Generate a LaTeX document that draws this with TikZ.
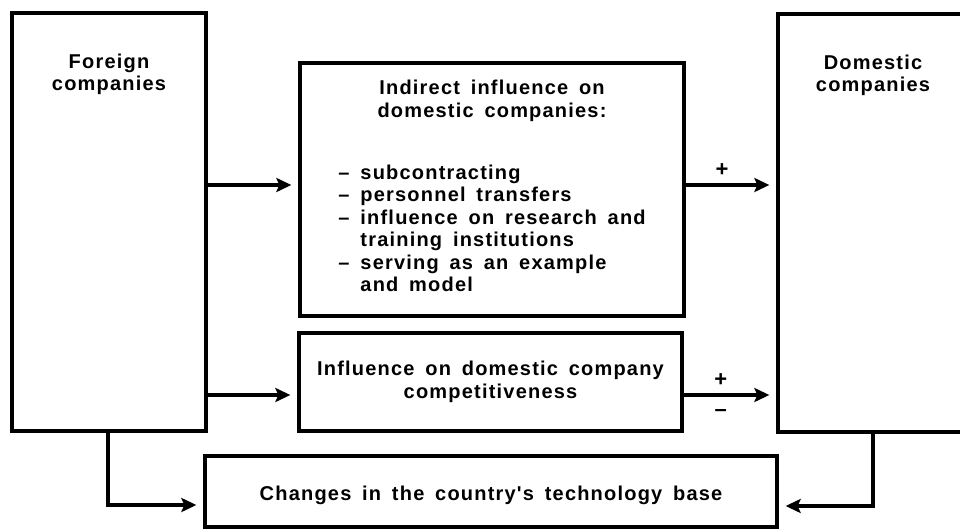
\documentclass[tikz,border=0pt]{standalone}
\usepackage{fontspec}
\usepackage{tikz}
\usetikzlibrary{arrows.meta, positioning, calc}
\newfontfamily\diagfont{Liberation Sans}[LetterSpace=6, WordSpace=1.6]

\begin{document}
\begin{tikzpicture}[
    x=1pt, y=-1pt,
    font=\diagfont\bfseries\fontsize{20}{22.5}\selectfont,
    box/.style={
        rectangle,
        draw=black,
        line width=3.3pt,
        align=center,
        inner sep=0pt
    },
    boxtitle/.style={anchor=north, align=center, inner sep=0pt},
    arrow/.style={-{Stealth[length=15pt,width=14pt,inset=3pt]}, line width=3.1pt, shorten >=7pt},
    sign/.style={font=\diagfont\bfseries\fontsize{22}{22}\selectfont, inner sep=1pt}
]
    \useasboundingbox (0,0) rectangle (960,529);

    % Boxes
    \node[box, minimum width=194pt, minimum height=418pt] (foreign) at (109,222) {};
    \node[boxtitle] (foreigntitle) at ([yshift=-42pt]foreign.north) {Foreign\\companies};

    \node[box, minimum width=190pt, minimum height=418pt] (domestic) at (873,223) {};
    \node[boxtitle] (domestictitle) at ([yshift=-42pt]domestic.north) {Domestic\\companies};

    \node[box, minimum width=384pt, minimum height=253pt] (indirect) at (492,189.5)
        {Indirect influence on\\domestic companies:\\[41pt]
         \begin{tabular}{@{}l@{\hspace{11pt}}l@{}}
         \textendash & subcontracting\\
         \textendash & personnel transfers\\
         \textendash & influence on research and\\
                     & training institutions\\
         \textendash & serving as an example\\
                     & and model
         \end{tabular}};

    \node[box, minimum width=383pt, minimum height=98pt] (compet) at (490.5,382)
        {Influence on domestic company\\competitiveness};

    \node[box, minimum width=572pt, minimum height=71pt] (changes) at (491,491.5)
        {\rule{0pt}{23pt}Changes in the country's technology base};

    % Arrows
    \draw[arrow] ([yshift=37pt]foreign.east) -- ([yshift=4.5pt]indirect.west);
    \draw[arrow] ([yshift=4.5pt]indirect.east) -- ([yshift=38pt]domestic.west)
        node[sign, pos=0.4, above=6pt] {+};
    \draw[arrow] ([yshift=-173pt]foreign.east) -- ([yshift=-13pt]compet.west);
    \draw[arrow] ([yshift=-13pt]compet.east) -- ([yshift=-172pt]domestic.west)
        node[sign, pos=0.4, above=6pt] {+}
        node[sign, pos=0.4, below=12pt] {\textendash};
    \draw[arrow] ([xshift=-1pt]foreign.south) |- ([yshift=-13.5pt]changes.west);
    \draw[arrow] (domestic.south) |- ([yshift=-14.5pt]changes.east);

\end{tikzpicture}
\end{document}
